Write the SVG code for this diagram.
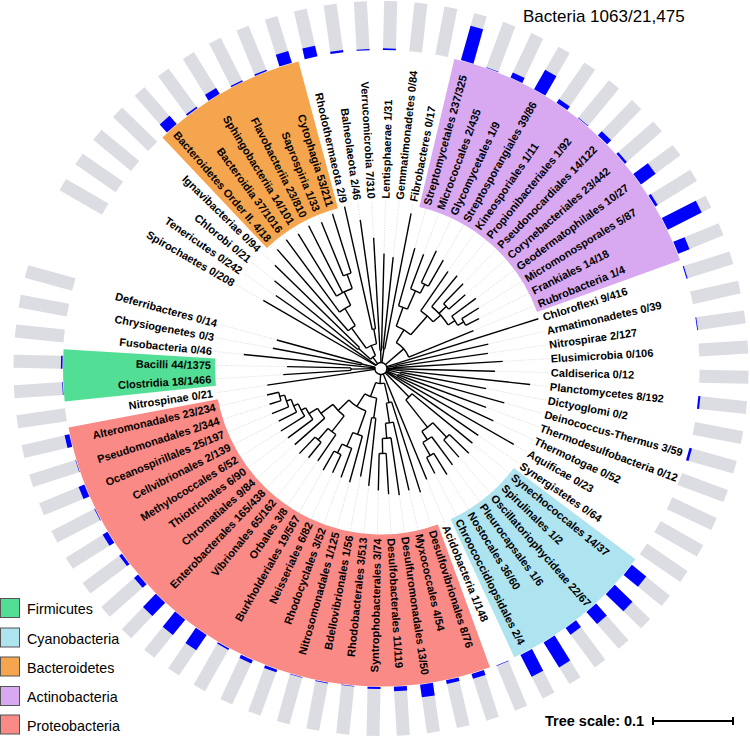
<svg xmlns="http://www.w3.org/2000/svg" width="750" height="737" viewBox="0 0 750 737">
<style>
.b{fill:#dcdce3}
.u{fill:#0000ff}
.l{font-family:"Liberation Sans",Arial,sans-serif;font-weight:bold;font-size:11px;fill:#000}
.d{stroke:#c4c4c4;stroke-width:0.6;stroke-dasharray:1 1.5}
.t line,.t circle{stroke:#000;stroke-width:1.4;fill:none}
.w{fill:none;stroke-width:152}
.lg{font-family:"Liberation Sans",Arial,sans-serif;font-size:14.3px;fill:#000}
</style>
<rect width="750" height="737" fill="#fff"/>
<g transform="translate(381 368.5)">
<g id="clades" class="w">
<circle id="clade-actinobacteria" r="242" stroke="#d8a8f0" pathLength="360" stroke-dasharray="56.76 400" transform="rotate(-76.66)"/>
<circle id="clade-cyanobacteria" r="242" stroke="#aee3f0" pathLength="360" stroke-dasharray="28.38 400" transform="rotate(36.86)"/>
<circle id="clade-proteobacteria" r="242" stroke="#f98a85" pathLength="360" stroke-dasharray="99.33 400" transform="rotate(69.97)"/>
<circle id="clade-firmicutes" r="242" stroke="#52df95" pathLength="360" stroke-dasharray="9.46 400" transform="rotate(174.03)"/>
<circle id="clade-bacteroidetes" r="242" stroke="#f6a54f" pathLength="360" stroke-dasharray="28.38 400" transform="rotate(226.58)"/>
</g>
<g id="tree" class="t">
<circle r="6" pathLength="360" stroke-dasharray="342.93 400" transform="rotate(210.02)"/>
<circle r="14" pathLength="360" stroke-dasharray="24.98 400" transform="rotate(221.85)"/>
<circle r="30" pathLength="360" stroke-dasharray="4.73 400" transform="rotate(219.48)"/>
<circle r="25" pathLength="360" stroke-dasharray="25.72 400" transform="rotate(233.97)"/>
<circle r="50" pathLength="360" stroke-dasharray="10.06 400" transform="rotate(228.94)"/>
<circle r="70" pathLength="360" stroke-dasharray="10.65 400" transform="rotate(233.67)"/>
<circle r="85" pathLength="360" stroke-dasharray="11.83 400" transform="rotate(238.40)"/>
<circle r="100" pathLength="360" stroke-dasharray="4.73 400" transform="rotate(247.86)"/>
<circle r="40" pathLength="360" stroke-dasharray="4.73 400" transform="rotate(257.32)"/>
<circle r="18" pathLength="360" stroke-dasharray="4.73 400" transform="rotate(266.78)"/>
<circle r="20" pathLength="360" stroke-dasharray="4.73 400" transform="rotate(276.24)"/>
<circle r="30" pathLength="360" stroke-dasharray="37.11 400" transform="rotate(-59.38)"/>
<circle r="45" pathLength="360" stroke-dasharray="21.58 400" transform="rotate(-70.17)"/>
<circle r="65" pathLength="360" stroke-dasharray="8.27 400" transform="rotate(-74.30)"/>
<circle r="85" pathLength="360" stroke-dasharray="7.09 400" transform="rotate(-69.57)"/>
<circle r="95" pathLength="360" stroke-dasharray="4.73 400" transform="rotate(-64.84)"/>
<circle r="70" pathLength="360" stroke-dasharray="13.59 400" transform="rotate(-55.38)"/>
<circle r="80" pathLength="360" stroke-dasharray="17.73 400" transform="rotate(-50.65)"/>
<circle r="90" pathLength="360" stroke-dasharray="4.73 400" transform="rotate(-45.92)"/>
<circle r="88" pathLength="360" stroke-dasharray="7.09 400" transform="rotate(-36.46)"/>
<circle r="95" pathLength="360" stroke-dasharray="4.73 400" transform="rotate(-31.73)"/>
<circle r="15" pathLength="360" stroke-dasharray="4.73 400" transform="rotate(-12.81)"/>
<circle r="12" pathLength="360" stroke-dasharray="4.73 400" transform="rotate(-3.35)"/>
<circle r="20" pathLength="360" stroke-dasharray="4.73 400" transform="rotate(10.84)"/>
<circle r="18" pathLength="360" stroke-dasharray="4.73 400" transform="rotate(20.30)"/>
<circle r="40" pathLength="360" stroke-dasharray="12.42 400" transform="rotate(39.22)"/>
<circle r="75" pathLength="360" stroke-dasharray="10.64 400" transform="rotate(46.32)"/>
<circle r="95" pathLength="360" stroke-dasharray="4.73 400" transform="rotate(43.95)"/>
<circle r="85" pathLength="360" stroke-dasharray="7.10 400" transform="rotate(53.41)"/>
<circle r="100" pathLength="360" stroke-dasharray="4.73 400" transform="rotate(58.14)"/>
<circle r="15" pathLength="360" stroke-dasharray="33.69 400" transform="rotate(76.77)"/>
<circle r="35" pathLength="360" stroke-dasharray="8.87 400" transform="rotate(72.33)"/>
<circle r="55" pathLength="360" stroke-dasharray="8.28 400" transform="rotate(77.06)"/>
<circle r="70" pathLength="360" stroke-dasharray="7.10 400" transform="rotate(81.79)"/>
<circle r="85" pathLength="360" stroke-dasharray="4.73 400" transform="rotate(86.52)"/>
<circle r="30" pathLength="360" stroke-dasharray="24.22 400" transform="rotate(98.35)"/>
<circle r="50" pathLength="360" stroke-dasharray="4.73 400" transform="rotate(95.98)"/>
<circle r="45" pathLength="360" stroke-dasharray="25.98 400" transform="rotate(109.58)"/>
<circle r="70" pathLength="360" stroke-dasharray="8.28 400" transform="rotate(105.44)"/>
<circle r="85" pathLength="360" stroke-dasharray="7.10 400" transform="rotate(110.17)"/>
<circle r="95" pathLength="360" stroke-dasharray="4.73 400" transform="rotate(114.90)"/>
<circle r="60" pathLength="360" stroke-dasharray="15.30 400" transform="rotate(127.91)"/>
<circle r="80" pathLength="360" stroke-dasharray="7.10 400" transform="rotate(124.36)"/>
<circle r="95" pathLength="360" stroke-dasharray="4.73 400" transform="rotate(129.09)"/>
<circle r="75" pathLength="360" stroke-dasharray="9.32 400" transform="rotate(138.55)"/>
<circle r="85" pathLength="360" stroke-dasharray="9.17 400" transform="rotate(143.28)"/>
<circle r="90" pathLength="360" stroke-dasharray="8.87 400" transform="rotate(148.01)"/>
<circle r="95" pathLength="360" stroke-dasharray="8.28 400" transform="rotate(152.74)"/>
<circle r="100" pathLength="360" stroke-dasharray="7.10 400" transform="rotate(157.47)"/>
<circle r="105" pathLength="360" stroke-dasharray="4.73 400" transform="rotate(162.20)"/>
<circle r="30" pathLength="360" stroke-dasharray="4.73 400" transform="rotate(176.39)"/>
<circle r="20" pathLength="360" stroke-dasharray="4.73 400" transform="rotate(190.58)"/>
<line x1="6" x2="136" transform="rotate(210.02)"/>
<line x1="6" x2="128" transform="rotate(214.75)"/>
<line x1="6" x2="14" transform="rotate(234.34)"/>
<line x1="6" x2="18" transform="rotate(269.15)"/>
<line x1="6" x2="20" transform="rotate(278.61)"/>
<line x1="6" x2="30" transform="rotate(-40.83)"/>
<line x1="6" x2="165" transform="rotate(-17.54)"/>
<line x1="6" x2="15" transform="rotate(-10.45)"/>
<line x1="6" x2="12" transform="rotate(-0.99)"/>
<line x1="6" x2="150" transform="rotate(6.11)"/>
<line x1="6" x2="20" transform="rotate(13.21)"/>
<line x1="6" x2="18" transform="rotate(22.67)"/>
<line x1="6" x2="153" transform="rotate(29.76)"/>
<line x1="6" x2="118" transform="rotate(34.49)"/>
<line x1="6" x2="40" transform="rotate(45.43)"/>
<line x1="6" x2="120" transform="rotate(67.60)"/>
<line x1="6" x2="15" transform="rotate(93.62)"/>
<line x1="6" x2="115" transform="rotate(171.66)"/>
<line x1="6" x2="30" transform="rotate(178.76)"/>
<line x1="6" x2="138" transform="rotate(185.85)"/>
<line x1="6" x2="20" transform="rotate(192.95)"/>
<line x1="14" x2="30" transform="rotate(221.85)"/>
<line x1="14" x2="25" transform="rotate(246.83)"/>
<line x1="30" x2="138" transform="rotate(219.48)"/>
<line x1="30" x2="148" transform="rotate(224.21)"/>
<line x1="25" x2="50" transform="rotate(233.97)"/>
<line x1="25" x2="40" transform="rotate(259.69)"/>
<line x1="50" x2="158" transform="rotate(228.94)"/>
<line x1="50" x2="70" transform="rotate(239.00)"/>
<line x1="70" x2="160" transform="rotate(233.67)"/>
<line x1="70" x2="85" transform="rotate(244.32)"/>
<line x1="85" x2="158" transform="rotate(238.40)"/>
<line x1="85" x2="160" transform="rotate(243.13)"/>
<line x1="85" x2="100" transform="rotate(250.23)"/>
<line x1="100" x2="158" transform="rotate(247.86)"/>
<line x1="100" x2="162" transform="rotate(252.59)"/>
<line x1="40" x2="166" transform="rotate(257.32)"/>
<line x1="40" x2="150" transform="rotate(262.05)"/>
<line x1="18" x2="131" transform="rotate(266.78)"/>
<line x1="18" x2="115" transform="rotate(271.51)"/>
<line x1="20" x2="112" transform="rotate(276.24)"/>
<line x1="20" x2="158" transform="rotate(280.97)"/>
<line x1="30" x2="45" transform="rotate(-59.38)"/>
<line x1="30" x2="100" transform="rotate(-22.27)"/>
<line x1="45" x2="65" transform="rotate(-70.17)"/>
<line x1="45" x2="70" transform="rotate(-48.59)"/>
<line x1="65" x2="125" transform="rotate(-74.30)"/>
<line x1="65" x2="85" transform="rotate(-66.03)"/>
<line x1="85" x2="122" transform="rotate(-69.57)"/>
<line x1="85" x2="95" transform="rotate(-62.48)"/>
<line x1="95" x2="130" transform="rotate(-64.84)"/>
<line x1="95" x2="125" transform="rotate(-60.11)"/>
<line x1="70" x2="118" transform="rotate(-55.38)"/>
<line x1="70" x2="80" transform="rotate(-41.79)"/>
<line x1="80" x2="120" transform="rotate(-50.65)"/>
<line x1="80" x2="90" transform="rotate(-43.56)"/>
<line x1="80" x2="88" transform="rotate(-32.92)"/>
<line x1="90" x2="118" transform="rotate(-45.92)"/>
<line x1="90" x2="112" transform="rotate(-41.19)"/>
<line x1="88" x2="118" transform="rotate(-36.46)"/>
<line x1="88" x2="95" transform="rotate(-29.37)"/>
<line x1="95" x2="115" transform="rotate(-31.73)"/>
<line x1="95" x2="110" transform="rotate(-27.00)"/>
<line x1="15" x2="110" transform="rotate(-12.81)"/>
<line x1="15" x2="108" transform="rotate(-8.08)"/>
<line x1="12" x2="122" transform="rotate(-3.35)"/>
<line x1="12" x2="114" transform="rotate(1.38)"/>
<line x1="20" x2="107" transform="rotate(10.84)"/>
<line x1="20" x2="128" transform="rotate(15.57)"/>
<line x1="18" x2="112" transform="rotate(20.30)"/>
<line x1="18" x2="124" transform="rotate(25.03)"/>
<line x1="40" x2="118" transform="rotate(39.22)"/>
<line x1="40" x2="75" transform="rotate(51.64)"/>
<line x1="75" x2="95" transform="rotate(46.32)"/>
<line x1="75" x2="85" transform="rotate(56.96)"/>
<line x1="95" x2="122" transform="rotate(43.95)"/>
<line x1="95" x2="118" transform="rotate(48.68)"/>
<line x1="85" x2="120" transform="rotate(53.41)"/>
<line x1="85" x2="100" transform="rotate(60.51)"/>
<line x1="100" x2="125" transform="rotate(58.14)"/>
<line x1="100" x2="118" transform="rotate(62.87)"/>
<line x1="15" x2="35" transform="rotate(76.77)"/>
<line x1="15" x2="30" transform="rotate(110.46)"/>
<line x1="35" x2="130" transform="rotate(72.33)"/>
<line x1="35" x2="55" transform="rotate(81.20)"/>
<line x1="55" x2="125" transform="rotate(77.06)"/>
<line x1="55" x2="70" transform="rotate(85.34)"/>
<line x1="70" x2="128" transform="rotate(81.79)"/>
<line x1="70" x2="85" transform="rotate(88.89)"/>
<line x1="85" x2="126" transform="rotate(86.52)"/>
<line x1="85" x2="122" transform="rotate(91.25)"/>
<line x1="30" x2="50" transform="rotate(98.35)"/>
<line x1="30" x2="45" transform="rotate(122.57)"/>
<line x1="50" x2="118" transform="rotate(95.98)"/>
<line x1="50" x2="110" transform="rotate(100.71)"/>
<line x1="45" x2="70" transform="rotate(109.58)"/>
<line x1="45" x2="60" transform="rotate(135.56)"/>
<line x1="70" x2="118" transform="rotate(105.44)"/>
<line x1="70" x2="85" transform="rotate(113.72)"/>
<line x1="85" x2="116" transform="rotate(110.17)"/>
<line x1="85" x2="95" transform="rotate(117.27)"/>
<line x1="95" x2="115" transform="rotate(114.90)"/>
<line x1="95" x2="117" transform="rotate(119.63)"/>
<line x1="60" x2="80" transform="rotate(127.91)"/>
<line x1="60" x2="75" transform="rotate(143.21)"/>
<line x1="80" x2="112" transform="rotate(124.36)"/>
<line x1="80" x2="95" transform="rotate(131.46)"/>
<line x1="95" x2="115" transform="rotate(129.09)"/>
<line x1="95" x2="118" transform="rotate(133.82)"/>
<line x1="75" x2="115" transform="rotate(138.55)"/>
<line x1="75" x2="85" transform="rotate(147.87)"/>
<line x1="85" x2="116" transform="rotate(143.28)"/>
<line x1="85" x2="90" transform="rotate(152.45)"/>
<line x1="90" x2="118" transform="rotate(148.01)"/>
<line x1="90" x2="95" transform="rotate(156.88)"/>
<line x1="95" x2="115" transform="rotate(152.74)"/>
<line x1="95" x2="100" transform="rotate(161.02)"/>
<line x1="100" x2="118" transform="rotate(157.47)"/>
<line x1="100" x2="105" transform="rotate(164.57)"/>
<line x1="105" x2="117" transform="rotate(162.20)"/>
<line x1="105" x2="117" transform="rotate(166.93)"/>
<line x1="30" x2="98" transform="rotate(176.39)"/>
<line x1="30" x2="94" transform="rotate(181.12)"/>
<line x1="20" x2="110" transform="rotate(190.58)"/>
<line x1="20" x2="108" transform="rotate(195.31)"/>
</g>
<g id="leaves">
<g id="leaf-01" transform="rotate(-74.30)"><rect class="b" x="318.5" y="-6.5" width="49" height="13"/><rect class="u" x="318.5" y="-6.5" width="35.73" height="13"/><line class="d" x1="125" x2="168"/><text class="l" x="170" dy="0.36em">Streptomycetales 237/325</text></g>
<g id="leaf-02" transform="rotate(-69.57)"><rect class="b" x="318.5" y="-6.5" width="49" height="13"/><rect class="u" x="318.5" y="-6.5" width="0.6" height="13"/><line class="d" x1="122" x2="168"/><text class="l" x="170" dy="0.36em">Micrococcales 2/435</text></g>
<g id="leaf-03" transform="rotate(-64.84)"><rect class="b" x="318.5" y="-6.5" width="49" height="13"/><rect class="u" x="318.5" y="-6.5" width="5.44" height="13"/><line class="d" x1="130" x2="168"/><text class="l" x="170" dy="0.36em">Glycomycetales 1/9</text></g>
<g id="leaf-04" transform="rotate(-60.11)"><rect class="b" x="318.5" y="-6.5" width="49" height="13"/><rect class="u" x="318.5" y="-6.5" width="22.22" height="13"/><line class="d" x1="125" x2="168"/><text class="l" x="170" dy="0.36em">Streptosporangiales 39/86</text></g>
<g id="leaf-05" transform="rotate(-55.38)"><rect class="b" x="318.5" y="-6.5" width="49" height="13"/><rect class="u" x="318.5" y="-6.5" width="4.45" height="13"/><line class="d" x1="118" x2="168"/><text class="l" x="170" dy="0.36em">Kineosporiales 1/11</text></g>
<g id="leaf-06" transform="rotate(-50.65)"><rect class="b" x="318.5" y="-6.5" width="49" height="13"/><rect class="u" x="318.5" y="-6.5" width="0.6" height="13"/><line class="d" x1="120" x2="168"/><text class="l" x="170" dy="0.36em">Propionibacteriales 1/92</text></g>
<g id="leaf-07" transform="rotate(-45.92)"><rect class="b" x="318.5" y="-6.5" width="49" height="13"/><rect class="u" x="318.5" y="-6.5" width="5.62" height="13"/><line class="d" x1="118" x2="168"/><text class="l" x="170" dy="0.36em">Pseudonocardiales 14/122</text></g>
<g id="leaf-08" transform="rotate(-41.19)"><rect class="b" x="318.5" y="-6.5" width="49" height="13"/><rect class="u" x="318.5" y="-6.5" width="2.55" height="13"/><line class="d" x1="112" x2="168"/><text class="l" x="170" dy="0.36em">Corynebacteriales 23/442</text></g>
<g id="leaf-09" transform="rotate(-36.46)"><rect class="b" x="318.5" y="-6.5" width="49" height="13"/><rect class="u" x="318.5" y="-6.5" width="18.15" height="13"/><line class="d" x1="118" x2="168"/><text class="l" x="170" dy="0.36em">Geodermatophilales 10/27</text></g>
<g id="leaf-10" transform="rotate(-31.73)"><rect class="b" x="318.5" y="-6.5" width="49" height="13"/><rect class="u" x="318.5" y="-6.5" width="2.82" height="13"/><line class="d" x1="115" x2="168"/><text class="l" x="170" dy="0.36em">Micromonosporales 5/87</text></g>
<g id="leaf-11" transform="rotate(-27.00)"><rect class="b" x="318.5" y="-6.5" width="49" height="13"/><rect class="u" x="318.5" y="-6.5" width="38.1" height="13"/><line class="d" x1="110" x2="168"/><text class="l" x="170" dy="0.36em">Frankiales 14/18</text></g>
<g id="leaf-12" transform="rotate(-22.27)"><rect class="b" x="318.5" y="-6.5" width="49" height="13"/><rect class="u" x="318.5" y="-6.5" width="12.25" height="13"/><line class="d" x1="100" x2="168"/><text class="l" x="170" dy="0.36em">Rubrobacteria 1/4</text></g>
<g id="leaf-13" transform="rotate(-17.54)"><rect class="b" x="318.5" y="-6.5" width="49" height="13"/><rect class="u" x="318.5" y="-6.5" width="1.06" height="13"/><text class="l" x="170" dy="0.36em">Chloroflexi 9/416</text></g>
<g id="leaf-14" transform="rotate(-12.81)"><rect class="b" x="318.5" y="-6.5" width="49" height="13"/><line class="d" x1="110" x2="168"/><text class="l" x="170" dy="0.36em">Armatimonadetes 0/39</text></g>
<g id="leaf-15" transform="rotate(-8.08)"><rect class="b" x="318.5" y="-6.5" width="49" height="13"/><rect class="u" x="318.5" y="-6.5" width="0.77" height="13"/><line class="d" x1="108" x2="168"/><text class="l" x="170" dy="0.36em">Nitrospirae 2/127</text></g>
<g id="leaf-16" transform="rotate(-3.35)"><rect class="b" x="318.5" y="-6.5" width="49" height="13"/><line class="d" x1="122" x2="168"/><text class="l" x="170" dy="0.36em">Elusimicrobia 0/106</text></g>
<g id="leaf-17" transform="rotate(1.38)"><rect class="b" x="318.5" y="-6.5" width="49" height="13"/><line class="d" x1="114" x2="168"/><text class="l" x="170" dy="0.36em">Caldiserica 0/12</text></g>
<g id="leaf-18" transform="rotate(6.11)"><rect class="b" x="318.5" y="-6.5" width="49" height="13"/><rect class="u" x="318.5" y="-6.5" width="2.04" height="13"/><line class="d" x1="150" x2="168"/><text class="l" x="170" dy="0.36em">Planctomycetes 8/192</text></g>
<g id="leaf-19" transform="rotate(10.84)"><rect class="b" x="318.5" y="-6.5" width="49" height="13"/><line class="d" x1="107" x2="168"/><text class="l" x="170" dy="0.36em">Dictyoglomi 0/2</text></g>
<g id="leaf-20" transform="rotate(15.57)"><rect class="b" x="318.5" y="-6.5" width="49" height="13"/><rect class="u" x="318.5" y="-6.5" width="2.49" height="13"/><line class="d" x1="128" x2="168"/><text class="l" x="170" dy="0.36em">Deinococcus-Thermus 3/59</text></g>
<g id="leaf-21" transform="rotate(20.30)"><rect class="b" x="318.5" y="-6.5" width="49" height="13"/><line class="d" x1="112" x2="168"/><text class="l" x="170" dy="0.36em">Thermodesulfobacteria 0/12</text></g>
<g id="leaf-22" transform="rotate(25.03)"><rect class="b" x="318.5" y="-6.5" width="49" height="13"/><line class="d" x1="124" x2="168"/><text class="l" x="170" dy="0.36em">Thermotogae 0/52</text></g>
<g id="leaf-23" transform="rotate(29.76)"><rect class="b" x="318.5" y="-6.5" width="49" height="13"/><line class="d" x1="153" x2="168"/><text class="l" x="170" dy="0.36em">Aquificae 0/23</text></g>
<g id="leaf-24" transform="rotate(34.49)"><rect class="b" x="318.5" y="-6.5" width="49" height="13"/><line class="d" x1="118" x2="168"/><text class="l" x="170" dy="0.36em">Synergistetes 0/64</text></g>
<g id="leaf-25" transform="rotate(39.22)"><rect class="b" x="318.5" y="-6.5" width="49" height="13"/><rect class="u" x="318.5" y="-6.5" width="18.54" height="13"/><line class="d" x1="118" x2="168"/><text class="l" x="170" dy="0.36em">Synechococcales 14/37</text></g>
<g id="leaf-26" transform="rotate(43.95)"><rect class="b" x="318.5" y="-6.5" width="49" height="13"/><rect class="u" x="318.5" y="-6.5" width="24.5" height="13"/><line class="d" x1="122" x2="168"/><text class="l" x="170" dy="0.36em">Spirulinales 1/2</text></g>
<g id="leaf-27" transform="rotate(48.68)"><rect class="b" x="318.5" y="-6.5" width="49" height="13"/><rect class="u" x="318.5" y="-6.5" width="16.09" height="13"/><line class="d" x1="118" x2="168"/><text class="l" x="170" dy="0.36em">Oscillatoriophycideae 22/67</text></g>
<g id="leaf-28" transform="rotate(53.41)"><rect class="b" x="318.5" y="-6.5" width="49" height="13"/><rect class="u" x="318.5" y="-6.5" width="8.17" height="13"/><line class="d" x1="120" x2="168"/><text class="l" x="170" dy="0.36em">Pleurocapsales 1/6</text></g>
<g id="leaf-29" transform="rotate(58.14)"><rect class="b" x="318.5" y="-6.5" width="49" height="13"/><rect class="u" x="318.5" y="-6.5" width="29.4" height="13"/><line class="d" x1="125" x2="168"/><text class="l" x="170" dy="0.36em">Nostocales 36/60</text></g>
<g id="leaf-30" transform="rotate(62.87)"><rect class="b" x="318.5" y="-6.5" width="49" height="13"/><rect class="u" x="318.5" y="-6.5" width="24.5" height="13"/><line class="d" x1="118" x2="168"/><text class="l" x="170" dy="0.36em">Chroococcidiopsidales 2/4</text></g>
<g id="leaf-31" transform="rotate(67.60)"><rect class="b" x="318.5" y="-6.5" width="49" height="13"/><rect class="u" x="318.5" y="-6.5" width="0.5" height="13"/><line class="d" x1="120" x2="168"/><text class="l" x="170" dy="0.36em">Acidobacteria 1/148</text></g>
<g id="leaf-32" transform="rotate(72.33)"><rect class="b" x="318.5" y="-6.5" width="49" height="13"/><rect class="u" x="318.5" y="-6.5" width="5.16" height="13"/><line class="d" x1="130" x2="168"/><text class="l" x="170" dy="0.36em">Desulfovibrionales 8/76</text></g>
<g id="leaf-33" transform="rotate(77.06)"><rect class="b" x="318.5" y="-6.5" width="49" height="13"/><rect class="u" x="318.5" y="-6.5" width="3.63" height="13"/><line class="d" x1="125" x2="168"/><text class="l" x="170" dy="0.36em">Myxococcales 4/54</text></g>
<g id="leaf-34" transform="rotate(81.79)"><rect class="b" x="318.5" y="-6.5" width="49" height="13"/><rect class="u" x="318.5" y="-6.5" width="12.74" height="13"/><line class="d" x1="128" x2="168"/><text class="l" x="170" dy="0.36em">Desulfuromonadales 13/50</text></g>
<g id="leaf-35" transform="rotate(86.52)"><rect class="b" x="318.5" y="-6.5" width="49" height="13"/><rect class="u" x="318.5" y="-6.5" width="4.53" height="13"/><line class="d" x1="126" x2="168"/><text class="l" x="170" dy="0.36em">Desulfobacterales 11/119</text></g>
<g id="leaf-36" transform="rotate(91.25)"><rect class="b" x="318.5" y="-6.5" width="49" height="13"/><rect class="u" x="318.5" y="-6.5" width="1.99" height="13"/><line class="d" x1="122" x2="168"/><text class="l" x="-170" dy="0.36em" text-anchor="end" transform="rotate(180)">Syntrophobacterales 3/74</text></g>
<g id="leaf-37" transform="rotate(95.98)"><rect class="b" x="318.5" y="-6.5" width="49" height="13"/><rect class="u" x="318.5" y="-6.5" width="0.5" height="13"/><line class="d" x1="118" x2="168"/><text class="l" x="-170" dy="0.36em" text-anchor="end" transform="rotate(180)">Rhodobacterales 3/513</text></g>
<g id="leaf-38" transform="rotate(100.71)"><rect class="b" x="318.5" y="-6.5" width="49" height="13"/><rect class="u" x="318.5" y="-6.5" width="0.88" height="13"/><line class="d" x1="110" x2="168"/><text class="l" x="-170" dy="0.36em" text-anchor="end" transform="rotate(180)">Bdellovibrionales 1/56</text></g>
<g id="leaf-39" transform="rotate(105.44)"><rect class="b" x="318.5" y="-6.5" width="49" height="13"/><rect class="u" x="318.5" y="-6.5" width="0.5" height="13"/><line class="d" x1="118" x2="168"/><text class="l" x="-170" dy="0.36em" text-anchor="end" transform="rotate(180)">Nitrosomonadales 1/125</text></g>
<g id="leaf-40" transform="rotate(110.17)"><rect class="b" x="318.5" y="-6.5" width="49" height="13"/><rect class="u" x="318.5" y="-6.5" width="2.83" height="13"/><line class="d" x1="116" x2="168"/><text class="l" x="-170" dy="0.36em" text-anchor="end" transform="rotate(180)">Rhodocyclales 3/52</text></g>
<g id="leaf-41" transform="rotate(114.90)"><rect class="b" x="318.5" y="-6.5" width="49" height="13"/><rect class="u" x="318.5" y="-6.5" width="3.59" height="13"/><line class="d" x1="115" x2="168"/><text class="l" x="-170" dy="0.36em" text-anchor="end" transform="rotate(180)">Neisseriales 6/82</text></g>
<g id="leaf-42" transform="rotate(119.63)"><rect class="b" x="318.5" y="-6.5" width="49" height="13"/><rect class="u" x="318.5" y="-6.5" width="1.64" height="13"/><line class="d" x1="117" x2="168"/><text class="l" x="-170" dy="0.36em" text-anchor="end" transform="rotate(180)">Burkholderiales 19/567</text></g>
<g id="leaf-43" transform="rotate(124.36)"><rect class="b" x="318.5" y="-6.5" width="49" height="13"/><rect class="u" x="318.5" y="-6.5" width="18.4" height="13"/><line class="d" x1="112" x2="168"/><text class="l" x="-170" dy="0.36em" text-anchor="end" transform="rotate(180)">Orbales 3/8</text></g>
<g id="leaf-44" transform="rotate(129.09)"><rect class="b" x="318.5" y="-6.5" width="49" height="13"/><rect class="u" x="318.5" y="-6.5" width="19.66" height="13"/><line class="d" x1="115" x2="168"/><text class="l" x="-170" dy="0.36em" text-anchor="end" transform="rotate(180)">Vibrionales 65/162</text></g>
<g id="leaf-45" transform="rotate(133.82)"><rect class="b" x="318.5" y="-6.5" width="49" height="13"/><rect class="u" x="318.5" y="-6.5" width="18.46" height="13"/><line class="d" x1="118" x2="168"/><text class="l" x="-170" dy="0.36em" text-anchor="end" transform="rotate(180)">Enterobacterales 165/438</text></g>
<g id="leaf-46" transform="rotate(138.55)"><rect class="b" x="318.5" y="-6.5" width="49" height="13"/><rect class="u" x="318.5" y="-6.5" width="5.25" height="13"/><line class="d" x1="115" x2="168"/><text class="l" x="-170" dy="0.36em" text-anchor="end" transform="rotate(180)">Chromatiales 9/84</text></g>
<g id="leaf-47" transform="rotate(143.28)"><rect class="b" x="318.5" y="-6.5" width="49" height="13"/><rect class="u" x="318.5" y="-6.5" width="3.27" height="13"/><line class="d" x1="116" x2="168"/><text class="l" x="-170" dy="0.36em" text-anchor="end" transform="rotate(180)">Thiotrichales 6/90</text></g>
<g id="leaf-48" transform="rotate(148.01)"><rect class="b" x="318.5" y="-6.5" width="49" height="13"/><rect class="u" x="318.5" y="-6.5" width="5.65" height="13"/><line class="d" x1="118" x2="168"/><text class="l" x="-170" dy="0.36em" text-anchor="end" transform="rotate(180)">Methylococcales 6/52</text></g>
<g id="leaf-49" transform="rotate(152.74)"><rect class="b" x="318.5" y="-6.5" width="49" height="13"/><rect class="u" x="318.5" y="-6.5" width="0.7" height="13"/><line class="d" x1="115" x2="168"/><text class="l" x="-170" dy="0.36em" text-anchor="end" transform="rotate(180)">Cellvibrionales 2/139</text></g>
<g id="leaf-50" transform="rotate(157.47)"><rect class="b" x="318.5" y="-6.5" width="49" height="13"/><rect class="u" x="318.5" y="-6.5" width="6.22" height="13"/><line class="d" x1="118" x2="168"/><text class="l" x="-170" dy="0.36em" text-anchor="end" transform="rotate(180)">Oceanospirillales 25/197</text></g>
<g id="leaf-51" transform="rotate(162.20)"><rect class="b" x="318.5" y="-6.5" width="49" height="13"/><rect class="u" x="318.5" y="-6.5" width="0.5" height="13"/><line class="d" x1="117" x2="168"/><text class="l" x="-170" dy="0.36em" text-anchor="end" transform="rotate(180)">Pseudomonadales 2/344</text></g>
<g id="leaf-52" transform="rotate(166.93)"><rect class="b" x="318.5" y="-6.5" width="49" height="13"/><rect class="u" x="318.5" y="-6.5" width="4.82" height="13"/><line class="d" x1="117" x2="168"/><text class="l" x="-170" dy="0.36em" text-anchor="end" transform="rotate(180)">Alteromonadales 23/234</text></g>
<g id="leaf-53" transform="rotate(171.66)"><rect class="b" x="318.5" y="-6.5" width="49" height="13"/><line class="d" x1="115" x2="168"/><text class="l" x="-170" dy="0.36em" text-anchor="end" transform="rotate(180)">Nitrospinae 0/21</text></g>
<g id="leaf-54" transform="rotate(176.39)"><rect class="b" x="318.5" y="-6.5" width="49" height="13"/><rect class="u" x="318.5" y="-6.5" width="0.6" height="13"/><line class="d" x1="98" x2="168"/><text class="l" x="-170" dy="0.36em" text-anchor="end" transform="rotate(180)">Clostridia 18/1466</text></g>
<g id="leaf-55" transform="rotate(181.12)"><rect class="b" x="318.5" y="-6.5" width="49" height="13"/><rect class="u" x="318.5" y="-6.5" width="1.57" height="13"/><line class="d" x1="94" x2="168"/><text class="l" x="-170" dy="0.36em" text-anchor="end" transform="rotate(180)">Bacilli 44/1375</text></g>
<g id="leaf-56" transform="rotate(185.85)"><rect class="b" x="318.5" y="-6.5" width="49" height="13"/><line class="d" x1="138" x2="168"/><text class="l" x="-170" dy="0.36em" text-anchor="end" transform="rotate(180)">Fusobacteria 0/46</text></g>
<g id="leaf-57" transform="rotate(190.58)"><rect class="b" x="318.5" y="-6.5" width="49" height="13"/><line class="d" x1="110" x2="168"/><text class="l" x="-170" dy="0.36em" text-anchor="end" transform="rotate(180)">Chrysiogenetes 0/3</text></g>
<g id="leaf-58" transform="rotate(195.31)"><rect class="b" x="318.5" y="-6.5" width="49" height="13"/><line class="d" x1="108" x2="168"/><text class="l" x="-170" dy="0.36em" text-anchor="end" transform="rotate(180)">Deferribacteres 0/14</text></g>
<g id="leaf-59" transform="rotate(210.02)"><rect class="b" x="318.5" y="-6.5" width="49" height="13"/><line class="d" x1="136" x2="168"/><text class="l" x="-170" dy="0.36em" text-anchor="end" transform="rotate(180)">Spirochaetes 0/208</text></g>
<g id="leaf-60" transform="rotate(214.75)"><rect class="b" x="318.5" y="-6.5" width="49" height="13"/><line class="d" x1="128" x2="168"/><text class="l" x="-170" dy="0.36em" text-anchor="end" transform="rotate(180)">Tenericutes 0/242</text></g>
<g id="leaf-61" transform="rotate(219.48)"><rect class="b" x="318.5" y="-6.5" width="49" height="13"/><line class="d" x1="138" x2="168"/><text class="l" x="-170" dy="0.36em" text-anchor="end" transform="rotate(180)">Chlorobi 0/21</text></g>
<g id="leaf-62" transform="rotate(224.21)"><rect class="b" x="318.5" y="-6.5" width="49" height="13"/><line class="d" x1="148" x2="168"/><text class="l" x="-170" dy="0.36em" text-anchor="end" transform="rotate(180)">Ignavibacteriae 0/94</text></g>
<g id="leaf-63" transform="rotate(228.94)"><rect class="b" x="318.5" y="-6.5" width="49" height="13"/><rect class="u" x="318.5" y="-6.5" width="10.89" height="13"/><line class="d" x1="158" x2="168"/><text class="l" x="-170" dy="0.36em" text-anchor="end" transform="rotate(180)">Bacteroidetes Order II. 4/18</text></g>
<g id="leaf-64" transform="rotate(233.67)"><rect class="b" x="318.5" y="-6.5" width="49" height="13"/><rect class="u" x="318.5" y="-6.5" width="1.78" height="13"/><line class="d" x1="160" x2="168"/><text class="l" x="-170" dy="0.36em" text-anchor="end" transform="rotate(180)">Bacteroidia 37/1016</text></g>
<g id="leaf-65" transform="rotate(238.40)"><rect class="b" x="318.5" y="-6.5" width="49" height="13"/><rect class="u" x="318.5" y="-6.5" width="6.79" height="13"/><line class="d" x1="158" x2="168"/><text class="l" x="-170" dy="0.36em" text-anchor="end" transform="rotate(180)">Sphingobacteriia 14/101</text></g>
<g id="leaf-66" transform="rotate(243.13)"><rect class="b" x="318.5" y="-6.5" width="49" height="13"/><rect class="u" x="318.5" y="-6.5" width="1.39" height="13"/><line class="d" x1="160" x2="168"/><text class="l" x="-170" dy="0.36em" text-anchor="end" transform="rotate(180)">Flavobacteriia 23/810</text></g>
<g id="leaf-67" transform="rotate(247.86)"><rect class="b" x="318.5" y="-6.5" width="49" height="13"/><rect class="u" x="318.5" y="-6.5" width="1.48" height="13"/><line class="d" x1="158" x2="168"/><text class="l" x="-170" dy="0.36em" text-anchor="end" transform="rotate(180)">Saprospiria 1/33</text></g>
<g id="leaf-68" transform="rotate(252.59)"><rect class="b" x="318.5" y="-6.5" width="49" height="13"/><rect class="u" x="318.5" y="-6.5" width="12.31" height="13"/><line class="d" x1="162" x2="168"/><text class="l" x="-170" dy="0.36em" text-anchor="end" transform="rotate(180)">Cytophagia 53/211</text></g>
<g id="leaf-69" transform="rotate(257.32)"><rect class="b" x="318.5" y="-6.5" width="49" height="13"/><rect class="u" x="318.5" y="-6.5" width="10.89" height="13"/><text class="l" x="-170" dy="0.36em" text-anchor="end" transform="rotate(180)">Rhodothermaeota 2/9</text></g>
<g id="leaf-70" transform="rotate(262.05)"><rect class="b" x="318.5" y="-6.5" width="49" height="13"/><rect class="u" x="318.5" y="-6.5" width="2.13" height="13"/><line class="d" x1="150" x2="168"/><text class="l" x="-170" dy="0.36em" text-anchor="end" transform="rotate(180)">Balneolaeota 2/46</text></g>
<g id="leaf-71" transform="rotate(266.78)"><rect class="b" x="318.5" y="-6.5" width="49" height="13"/><rect class="u" x="318.5" y="-6.5" width="1.11" height="13"/><line class="d" x1="131" x2="168"/><text class="l" x="-170" dy="0.36em" text-anchor="end" transform="rotate(180)">Verrucomicrobia 7/310</text></g>
<g id="leaf-72" transform="rotate(271.51)"><rect class="b" x="318.5" y="-6.5" width="49" height="13"/><rect class="u" x="318.5" y="-6.5" width="1.58" height="13"/><line class="d" x1="115" x2="168"/><text class="l" x="170" dy="0.36em">Lentisphaerae 1/31</text></g>
<g id="leaf-73" transform="rotate(276.24)"><rect class="b" x="318.5" y="-6.5" width="49" height="13"/><line class="d" x1="112" x2="168"/><text class="l" x="170" dy="0.36em">Gemmatimonadetes 0/84</text></g>
<g id="leaf-74" transform="rotate(280.97)"><rect class="b" x="318.5" y="-6.5" width="49" height="13"/><line class="d" x1="158" x2="168"/><text class="l" x="170" dy="0.36em">Fibrobacteres 0/17</text></g>
</g>
</g>
<g id="title"><text x="523" y="22" font-family="Liberation Sans, Arial, sans-serif" font-size="17" fill="#000">Bacteria 1063/21,475</text></g>
<g id="legend">
<g id="legend-firmicutes"><rect x="0.5" y="598.5" width="19" height="19" fill="#52df95" stroke="#555"/><text class="lg" x="27" y="614">Firmicutes</text></g>
<g id="legend-cyanobacteria"><rect x="0.5" y="628" width="19" height="19" fill="#aee3f0" stroke="#555"/><text class="lg" x="27" y="643.5">Cyanobacteria</text></g>
<g id="legend-bacteroidetes"><rect x="0.5" y="657" width="19" height="19" fill="#f6a54f" stroke="#555"/><text class="lg" x="27" y="672.5">Bacteroidetes</text></g>
<g id="legend-actinobacteria"><rect x="0.5" y="686.5" width="19" height="19" fill="#d8a8f0" stroke="#555"/><text class="lg" x="27" y="702">Actinobacteria</text></g>
<g id="legend-proteobacteria"><rect x="0.5" y="715" width="19" height="19" fill="#f98a85" stroke="#555"/><text class="lg" x="27" y="730.5">Proteobacteria</text></g>
</g>
<g id="scale">
<text x="545" y="726" font-family="Liberation Sans, Arial, sans-serif" font-weight="bold" font-size="14.5" fill="#000">Tree scale: 0.1</text>
<path d="M653 721H733M653 717V725M733 717V725" stroke="#000" stroke-width="2" fill="none"/>
</g>
</svg>
